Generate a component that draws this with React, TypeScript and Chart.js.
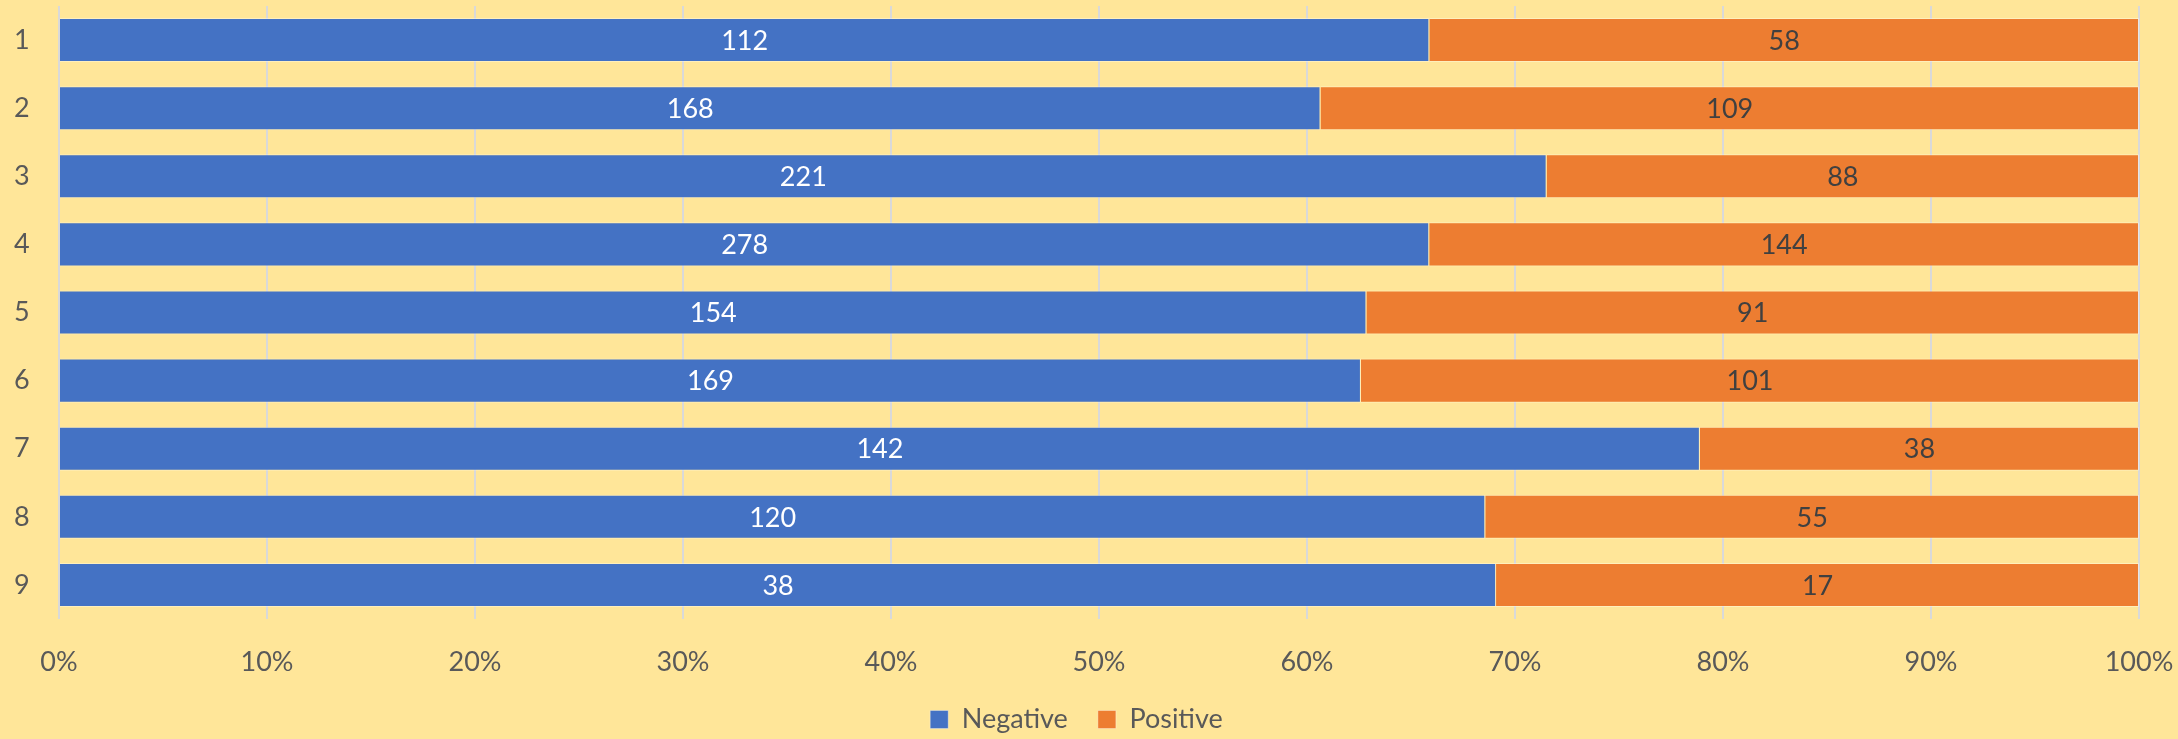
import React, { useEffect, useRef } from "react";
import { Chart, registerables } from "chart.js";

Chart.register(...registerables);

const categories = ["1", "2", "3", "4", "5", "6", "7", "8", "9"];
const negative = [112, 168, 221, 278, 154, 169, 142, 120, 38];
const positive = [58, 109, 88, 144, 91, 101, 38, 55, 17];
const xTicks = [0, 10, 20, 30, 40, 50, 60, 70, 80, 90, 100];

const FONT = "Lato, 'Open Sans', sans-serif";

const totals = negative.map((n, i) => n + positive[i]);
const negPct = negative.map((n, i) => (n / totals[i]) * 100);
const posPct = positive.map((p, i) => (p / totals[i]) * 100);
const rawValues = [negative, positive];
const labelColors = ["#FFFFFF", "#404040"];

const dataLabelPlugin = {
  id: "dataLabels",
  afterDatasetsDraw(chart: any) {
    const ctx = chart.ctx;
    ctx.save();
    ctx.font = `27px ${FONT}`;
    ctx.textAlign = "center";
    ctx.textBaseline = "middle";
    chart.data.datasets.forEach((ds: any, di: number) => {
      const meta = chart.getDatasetMeta(di);
      meta.data.forEach((bar: any, i: number) => {
        const cx = (bar.x + bar.base) / 2;
        ctx.fillStyle = labelColors[di];
        ctx.fillText(String(rawValues[di][i]), cx, bar.y + 1);
      });
    });
    ctx.restore();
  },
};

export default function App() {
  const ref = useRef<HTMLCanvasElement>(null);
  useEffect(() => {
    document.body.style.margin = "0";
    const chart = new Chart(ref.current!, {
      type: "bar",
      data: {
        labels: categories,
        datasets: [
          {
            label: "Negative",
            data: negPct,
            backgroundColor: "#4472C4",
            borderColor: "rgba(255,255,255,0.35)",
            borderWidth: 1,
            categoryPercentage: 1,
            barPercentage: 0.647,
          },
          {
            label: "Positive",
            data: posPct,
            backgroundColor: "#ED7D31",
            borderColor: "rgba(255,255,255,0.35)",
            borderWidth: 1,
            categoryPercentage: 1,
            barPercentage: 0.647,
          },
        ],
      },
      options: {
        indexAxis: "y",
        animation: false,
        responsive: false,
        maintainAspectRatio: false,
        layout: { padding: { left: 14, right: 39, top: 6, bottom: 0 } },
        scales: {
          x: {
            stacked: true,
            min: 0,
            max: 100,
            afterBuildTicks: (scale: any) => {
              scale.ticks = xTicks.map((v) => ({ value: v }));
            },
            afterFit: (scale: any) => {
              scale.height = 57;
            },
            ticks: {
              callback: (v: any) => `${v}%`,
              color: "#595959",
              font: { family: FONT, size: 27, lineHeight: 3.19 },
              padding: 0,
              maxRotation: 0,
              autoSkip: false,
            },
            grid: { color: "#D9D9D9", lineWidth: 2, drawTicks: false },
            border: { display: false },
          },
          y: {
            stacked: true,
            afterFit: (scale: any) => {
              scale.width = 45;
            },
            ticks: {
              color: "#595959",
              font: { family: FONT, size: 27, lineHeight: 0.4 },
              padding: 0,
              crossAlign: "far",
            },
            grid: { display: false, drawTicks: false },
            border: { display: false },
          },
        },
        plugins: {
          legend: {
            position: "bottom",
            maxHeight: 63,
            labels: {
              color: "#595959",
              font: { family: FONT, size: 27 },
              boxWidth: 18,
              boxHeight: 18,
              padding: 30,
              useBorderRadius: false,
            },
          },
          tooltip: { enabled: false },
        },
      },
      plugins: [
        dataLabelPlugin,
        {
          id: "bg",
          beforeDraw(c: any) {
            const ctx = c.ctx;
            ctx.save();
            ctx.fillStyle = "#FFE699";
            ctx.fillRect(0, 0, c.width, c.height);
            ctx.restore();
          },
        },
      ],
    });
    return () => chart.destroy();
  }, []);
  return (
    <div style={{ width: 2178, height: 739, background: "#FFE699" }}>
      <canvas ref={ref} width={2178} height={739} style={{ display: "block" }} />
    </div>
  );
}
